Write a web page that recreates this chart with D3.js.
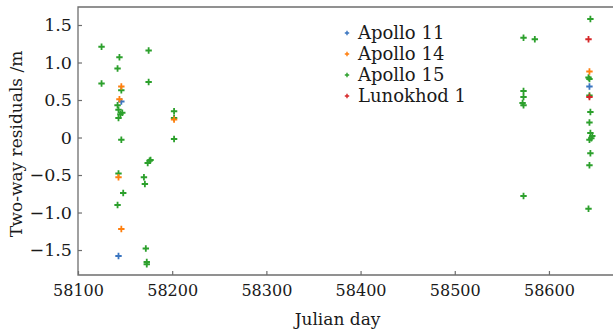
<!DOCTYPE html>
<html>
<head>
<meta charset="utf-8">
<script src="https://cdn.jsdelivr.net/npm/d3@7"></script>
<style>
  body { margin: 0; background: #fff; }
  svg { display: block; }
  text { font-family: "DejaVu Serif", "Liberation Serif", serif; fill: #1a1a1a; }
</style>
</head>
<body>
<svg id="chart" width="614" height="333"></svg>
<script>
// Two-way range residuals per retroreflector, by Julian day
const seriesNames = ["Apollo 11", "Apollo 14", "Apollo 15", "Lunokhod 1"];
const seriesColors = ["#3a75c0", "#ff7f0e", "#2ca02c", "#d62728"];

const apollo11Days = [58146, 58143, 58643];
const apollo11Res  = [0.48, -1.58, 0.68];

const apollo14Days = [58146, 58144, 58202, 58143, 58146, 58643];
const apollo14Res  = [0.68, 0.51, 0.24, -0.53, -1.22, 0.88];

const apollo15Days = [
  58125, 58125, 58144, 58142, 58146, 58142, 58143, 58147, 58145, 58143, 58146,
  58175, 58175, 58202, 58202, 58202,
  58176, 58174, 58177, 58143, 58170, 58171, 58148, 58142, 58172, 58173, 58173,
  58573, 58585, 58573, 58573, 58572, 58573, 58573,
  58644, 58642, 58643, 58643, 58644, 58643, 58644, 58646, 58643, 58645, 58644, 58643, 58642
];
const apollo15Res = [
  1.21, 0.72, 1.07, 0.92, 0.63, 0.43, 0.37, 0.33, 0.31, 0.26, -0.03,
  1.16, 0.74, 0.35, 0.26, -0.02,
  -0.31, -0.34, -0.30, -0.48, -0.53, -0.62, -0.74, -0.90, -1.48, -1.66, -1.69,
  1.33, 1.31, 0.62, 0.54, 0.46, 0.43, -0.78,
  1.58, 0.80, 0.78, 0.56, 0.34, 0.20, 0.06, 0.02, -0.03, -0.01, -0.21, -0.37, -0.95
];

const lunokhod1Days = [58642, 58643];
const lunokhod1Res  = [1.31, 0.54];

const xTicks = [58100, 58200, 58300, 58400, 58500, 58600];
const yTicks = [-1.5, -1.0, -0.5, 0, 0.5, 1.0, 1.5];

const seriesDays = [apollo11Days, apollo14Days, apollo15Days, lunokhod1Days];
const seriesRes  = [apollo11Res, apollo14Res, apollo15Res, lunokhod1Res];

const svg = d3.select("#chart");
const plotLeft = 78, plotRight = 613, plotTop = 7, plotBottom = 275;

const x = d3.scaleLinear().domain([58100, 58668]).range([plotLeft, plotRight]);
const y = d3.scaleLinear().domain([-1.833, 1.74]).range([plotBottom, plotTop]);

const axisColor = "#6e6e6e";

// spines: left, top, bottom
svg.append("path")
  .attr("d", `M${plotRight},${plotTop}H${plotLeft}V${plotBottom}H${plotRight}`)
  .attr("fill", "none").attr("stroke", axisColor).attr("stroke-width", 1.3);

const fmtY = d => d === 0 ? "0" : (d < 0 ? "\u2212" + Math.abs(d).toFixed(1) : d.toFixed(1));

const xAxis = svg.append("g").attr("transform", `translate(0,${plotBottom})`)
  .call(d3.axisBottom(x).tickValues(xTicks).tickSizeInner(-4).tickSizeOuter(0).tickPadding(10).tickFormat(d3.format("d")));
const yAxis = svg.append("g").attr("transform", `translate(${plotLeft},0)`)
  .call(d3.axisLeft(y).tickValues(yTicks).tickSizeInner(-4).tickSizeOuter(0).tickPadding(6).tickFormat(fmtY));

[xAxis, yAxis].forEach(g => {
  g.select(".domain").remove();
  g.selectAll(".tick line").attr("stroke", axisColor).attr("stroke-width", 1.2);
  g.selectAll(".tick text").attr("fill", "#1a1a1a")
    .style("font-family", "'DejaVu Serif', 'Liberation Serif', serif");
});
xAxis.selectAll(".tick text").style("font-size", "16px");
yAxis.selectAll(".tick text").style("font-size", "17.5px");

// axis titles
svg.append("text").attr("x", (plotLeft + plotRight) / 2 - 8).attr("y", 325)
  .attr("text-anchor", "middle").style("font-size", "17px").text("Julian day");
svg.append("text").attr("transform", `translate(22,${(plotTop + plotBottom) / 2 + 3}) rotate(-90)`)
  .attr("text-anchor", "middle").style("font-size", "17px").text("Two-way residuals /m");

// plus markers
const plus = "M-3.2,0H3.2M0,-3.2V3.2";
const drawOrder = [2, 0, 1, 3];
drawOrder.forEach(i => {
  const pts = seriesDays[i].map((d, k) => [d, seriesRes[i][k]]);
  svg.append("g").selectAll("path").data(pts).join("path")
    .attr("d", plus)
    .attr("transform", d => `translate(${x(d[0])},${y(d[1])})`)
    .attr("stroke", seriesColors[i]).attr("stroke-width", 1.8).attr("fill", "none");
});

// legend
const legend = svg.append("g").attr("transform", "translate(347,33)");
seriesNames.forEach((name, i) => {
  const row = legend.append("g").attr("transform", `translate(0,${i * 21})`);
  row.append("path").attr("d", "M-2.2,0H2.2M0,-2.2V2.2")
    .attr("stroke", seriesColors[i]).attr("stroke-width", 1.4);
  row.append("text").attr("x", 11).attr("y", 6).style("font-size", "18px").text(name);
});
</script>
</body>
</html>
